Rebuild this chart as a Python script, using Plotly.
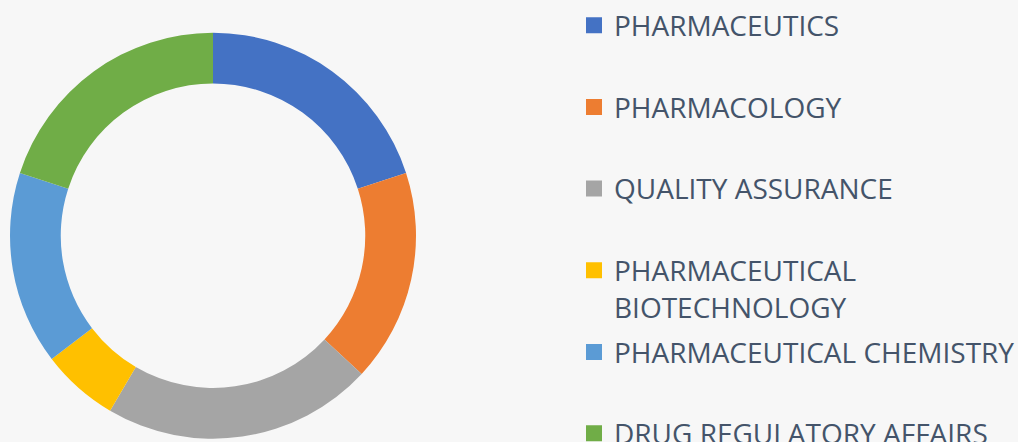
import plotly.graph_objects as go

labels = ["PHARMACEUTICS", "PHARMACOLOGY", "QUALITY ASSURANCE",
          "PHARMACEUTICAL<br>BIOTECHNOLOGY", "PHARMACEUTICAL CHEMISTRY",
          "DRUG REGULATORY AFFAIRS"]
values = [13, 11, 14, 4, 10, 13]
colors = ["#4472C4", "#ED7D31", "#A5A5A5", "#FFC000", "#5B9BD5", "#70AD47"]

W, H = 1018, 442
BG = "#F7F7F7"
TXT = "#44546A"

fig = go.Figure()
cx, cy, r = 213, 235.7, 203
fig.add_trace(go.Pie(
    labels=labels, values=values, sort=False, direction="clockwise", rotation=0,
    hole=0.75, marker=dict(colors=colors, line=dict(width=0)),
    textinfo="none", hoverinfo="label+value+percent", showlegend=False,
    domain=dict(x=[(cx - r) / W, (cx + r) / W], y=[(H - cy - r) / H, (H - cy + r) / H]),
))

# legend entries, one legend each so spacing matches the reference
centers = [25, 106.7, 188.3, 270, 351.7, 433]
FS = 28
layout_legends = {}
for i, (lab, col) in enumerate(zip(labels, colors)):
    key = "legend" if i == 0 else f"legend{i+1}"
    fig.add_trace(go.Scatter(
        x=[None], y=[None], mode="markers", name=lab, legend=key,
        marker=dict(symbol="square", size=17, color=col),
        showlegend=True, hoverinfo="skip",
    ))
    top = centers[i] - 24.5
    layout_legends[key] = dict(
        x=574 / W, xanchor="left", y=1 - top / H, yanchor="top",
        font=dict(family="Open Sans", size=FS, color=TXT),
        bgcolor="rgba(0,0,0,0)", valign="top", itemsizing="trace",
        borderwidth=0,
    )

fig.update_layout(
    width=W, height=H, margin=dict(l=0, r=0, t=0, b=0, autoexpand=False),
    paper_bgcolor=BG, plot_bgcolor=BG,
    xaxis=dict(visible=False), yaxis=dict(visible=False),
    **layout_legends,
)
fig.write_html("out.html", config={"displayModeBar": False},
               post_script="document.body.style.margin='0';document.body.style.background='#F7F7F7';")
